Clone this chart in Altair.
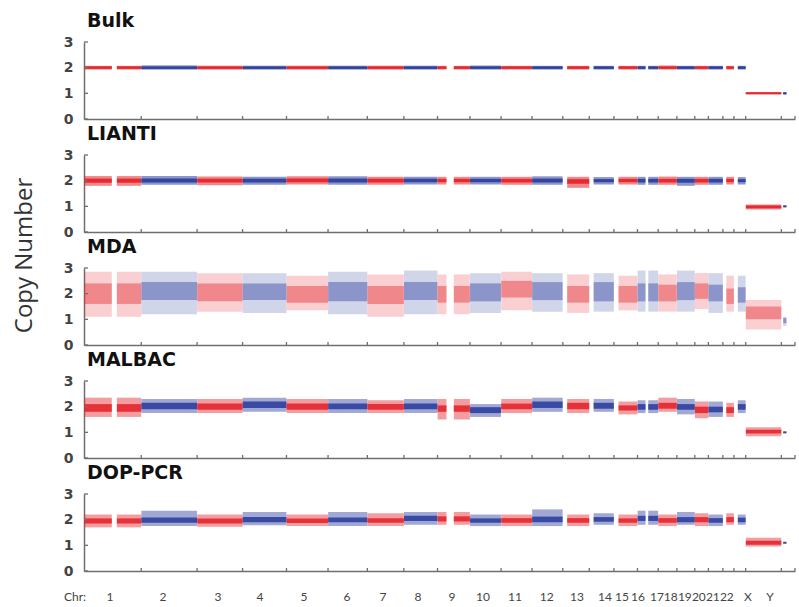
import altair as alt
import pandas as pd

# ---------------- data ----------------
CHR_NAMES = ["1", "2", "3", "4", "5", "6", "7", "8", "9", "10", "11", "12",
             "13", "14", "15", "16", "17", "18", "19", "20", "21", "22", "X", "Y"]
CHR_LEN_MB = [249.25, 243.20, 198.02, 191.15, 180.92, 171.12, 159.14, 146.36,
              141.21, 135.53, 135.01, 133.85, 115.17, 107.35, 102.53, 90.35,
              81.20, 78.08, 59.13, 63.03, 48.13, 51.30, 155.27, 59.37]
# covered regions (Mb within each chromosome); gaps = centromeres / p-arms
CHR_SEGMENTS_MB = [
    [[0.5, 121], [143, 249]], [[0.5, 243]], [[0.5, 198]], [[0.5, 191]],
    [[0.5, 181]], [[0.5, 171]], [[0.5, 159]], [[0.5, 146]],
    [[0.5, 39], [71, 141]], [[0.5, 135]], [[0.5, 135]], [[0.5, 133]],
    [[19, 115]], [[19, 107]], [[20, 102]], [[0.5, 35], [47, 90]],
    [[0.5, 81]], [[0.5, 78]], [[0.5, 59]], [[0.5, 63]],
    [[15, 48]], [[17, 51]], [[0.5, 155]], [[8, 22]],
]
# x positions (cumulative Mb) of the chromosome labels under the bottom panel
LABEL_AT_MB = [113, 344, 583, 766, 958, 1145, 1302, 1454, 1602, 1737, 1876, 2015,
               2146, 2268, 2342, 2412, 2495, 2555, 2616, 2677, 2738, 2799, 2891, 2987]
Y_TICKS = [0, 1, 2, 3]

PANELS = ["Bulk", "LIANTI", "MDA", "MALBAC", "DOP-PCR"]

# copy-number spread per chromosome (outer ~ 5-95 %, core ~ 25-75 %)
BULK_OUT_LO = [1.93, 1.93, 1.93, 1.93, 1.93, 1.93, 1.93, 1.93, 1.93, 1.93, 1.93, 1.93,
               1.93, 1.93, 1.93, 1.93, 1.93, 1.93, 1.93, 1.93, 1.93, 1.93, 0.95, 0.95]
BULK_OUT_HI = [2.07, 2.08, 2.07, 2.07, 2.07, 2.07, 2.07, 2.07, 2.07, 2.08, 2.07, 2.07,
               2.07, 2.07, 2.07, 2.07, 2.08, 2.07, 2.07, 2.07, 2.07, 2.07, 1.05, 1.05]
BULK_CORE_LO = [1.96, 1.96, 1.96, 1.96, 1.96, 1.96, 1.96, 1.96, 1.96, 1.96, 1.96, 1.96,
                1.96, 1.96, 1.96, 1.96, 1.96, 1.96, 1.96, 1.96, 1.96, 1.96, 0.97, 0.97]
BULK_CORE_HI = [2.04, 2.04, 2.04, 2.04, 2.04, 2.04, 2.04, 2.04, 2.04, 2.04, 2.04, 2.04,
                2.04, 2.04, 2.04, 2.04, 2.04, 2.04, 2.04, 2.04, 2.04, 2.04, 1.03, 1.03]

LIANTI_OUT_LO = [1.80, 1.84, 1.82, 1.84, 1.85, 1.84, 1.84, 1.85, 1.85, 1.85, 1.84, 1.84,
                 1.72, 1.85, 1.85, 1.84, 1.84, 1.80, 1.84, 1.84, 1.85, 1.85, 0.88, 0.95]
LIANTI_OUT_HI = [2.18, 2.18, 2.16, 2.15, 2.17, 2.17, 2.15, 2.15, 2.15, 2.15, 2.15, 2.17,
                 2.15, 2.14, 2.15, 2.15, 2.16, 2.15, 2.15, 2.15, 2.15, 2.14, 1.07, 1.05]
LIANTI_CORE_LO = [1.92, 1.93, 1.93, 1.93, 1.94, 1.93, 1.93, 1.94, 1.94, 1.94, 1.93, 1.93,
                  1.88, 1.94, 1.94, 1.93, 1.93, 1.92, 1.93, 1.93, 1.94, 1.94, 0.93, 0.97]
LIANTI_CORE_HI = [2.08, 2.08, 2.07, 2.07, 2.08, 2.08, 2.07, 2.07, 2.07, 2.07, 2.07, 2.08,
                  2.06, 2.06, 2.07, 2.07, 2.07, 2.07, 2.07, 2.07, 2.07, 2.06, 1.03, 1.03]

MDA_OUT_LO = [1.10, 1.20, 1.30, 1.25, 1.35, 1.20, 1.10, 1.20, 1.20, 1.25, 1.35, 1.30,
              1.25, 1.30, 1.35, 1.30, 1.30, 1.30, 1.40, 1.25, 1.30, 1.30, 0.60, 0.75]
MDA_OUT_HI = [2.85, 2.85, 2.80, 2.80, 2.70, 2.85, 2.75, 2.90, 2.75, 2.80, 2.85, 2.80,
              2.75, 2.80, 2.70, 2.90, 2.75, 2.90, 2.80, 2.80, 2.70, 2.70, 1.75, 1.10]
MDA_CORE_LO = [1.60, 1.75, 1.70, 1.75, 1.65, 1.70, 1.60, 1.75, 1.65, 1.70, 1.85, 1.75,
               1.65, 1.70, 1.65, 1.70, 1.70, 1.75, 1.80, 1.70, 1.60, 1.65, 1.00, 0.85]
MDA_CORE_HI = [2.40, 2.45, 2.40, 2.40, 2.30, 2.45, 2.30, 2.45, 2.30, 2.40, 2.50, 2.45,
               2.30, 2.45, 2.30, 2.40, 2.35, 2.45, 2.40, 2.35, 2.20, 2.25, 1.50, 1.05]

MALBAC_OUT_LO = [1.60, 1.75, 1.75, 1.80, 1.75, 1.75, 1.75, 1.75, 1.50, 1.60, 1.75, 1.80,
                 1.75, 1.80, 1.70, 1.75, 1.80, 1.70, 1.55, 1.60, 1.60, 1.75, 0.85, 0.95]
MALBAC_OUT_HI = [2.35, 2.30, 2.30, 2.35, 2.30, 2.30, 2.25, 2.30, 2.30, 2.10, 2.30, 2.35,
                 2.30, 2.30, 2.20, 2.25, 2.35, 2.30, 2.20, 2.20, 2.15, 2.25, 1.20, 1.05]
MALBAC_CORE_LO = [1.80, 1.90, 1.88, 1.95, 1.88, 1.90, 1.88, 1.90, 1.80, 1.75, 1.90, 1.95,
                  1.90, 1.92, 1.85, 1.88, 1.92, 1.88, 1.75, 1.78, 1.75, 1.88, 0.95, 0.97]
MALBAC_CORE_HI = [2.10, 2.15, 2.12, 2.20, 2.12, 2.12, 2.10, 2.12, 2.05, 1.98, 2.12, 2.20,
                  2.15, 2.15, 2.05, 2.10, 2.15, 2.10, 2.00, 2.00, 1.98, 2.10, 1.10, 1.03]

DOP_OUT_LO = [1.70, 1.75, 1.72, 1.78, 1.75, 1.75, 1.75, 1.80, 1.80, 1.75, 1.75, 1.75,
              1.75, 1.80, 1.75, 1.80, 1.75, 1.80, 1.75, 1.75, 1.80, 1.80, 0.95, 1.05]
DOP_OUT_HI = [2.20, 2.35, 2.20, 2.30, 2.20, 2.30, 2.25, 2.30, 2.30, 2.20, 2.20, 2.40,
              2.20, 2.25, 2.20, 2.35, 2.20, 2.30, 2.25, 2.20, 2.25, 2.20, 1.30, 1.15]
DOP_CORE_LO = [1.85, 1.88, 1.85, 1.90, 1.87, 1.90, 1.88, 1.95, 1.93, 1.88, 1.88, 1.90,
               1.88, 1.92, 1.88, 1.95, 1.88, 1.90, 1.90, 1.88, 1.90, 1.90, 1.02, 1.07]
DOP_CORE_HI = [2.05, 2.08, 2.05, 2.10, 2.05, 2.08, 2.06, 2.15, 2.13, 2.05, 2.06, 2.12,
               2.06, 2.10, 2.05, 2.15, 2.06, 2.10, 2.10, 2.06, 2.10, 2.08, 1.18, 1.13]

PANEL_VALUES = {
    "Bulk": (BULK_OUT_LO, BULK_OUT_HI, BULK_CORE_LO, BULK_CORE_HI),
    "LIANTI": (LIANTI_OUT_LO, LIANTI_OUT_HI, LIANTI_CORE_LO, LIANTI_CORE_HI),
    "MDA": (MDA_OUT_LO, MDA_OUT_HI, MDA_CORE_LO, MDA_CORE_HI),
    "MALBAC": (MALBAC_OUT_LO, MALBAC_OUT_HI, MALBAC_CORE_LO, MALBAC_CORE_HI),
    "DOP-PCR": (DOP_OUT_LO, DOP_OUT_HI, DOP_CORE_LO, DOP_CORE_HI),
}

# ---------------- style ----------------
RED = "#e4262c"
BLUE = "#2e3f9e"
AX = "#6f6f6f"
W = 711
H = 77
OPAC = {"Bulk": (0.75, 1.0), "LIANTI": (0.55, 0.95), "MDA": (0.22, 0.42),
        "MALBAC": (0.45, 0.9), "DOP-PCR": (0.45, 0.9)}

CUM_START = []
acc = 0.0
for L in CHR_LEN_MB:
    CUM_START.append(acc)
    acc += L
GENOME = acc
BOUNDARIES = [CUM_START[i] + CHR_LEN_MB[i] for i in range(len(CHR_LEN_MB))]


def panel_df(out_lo, out_hi, core_lo, core_hi):
    rows = []
    for i, name in enumerate(CHR_NAMES):
        for s0, s1 in CHR_SEGMENTS_MB[i]:
            rows.append(dict(chr=name, x0=CUM_START[i] + s0, x1=CUM_START[i] + s1,
                             olo=out_lo[i], ohi=out_hi[i], clo=core_lo[i], chi=core_hi[i],
                             parity="odd" if i % 2 == 0 else "even"))
    return pd.DataFrame(rows)


def make_panel(title, ytitle=False, bottom=False):
    df = panel_df(*PANEL_VALUES[title])
    out_op, core_op = OPAC[title]
    xs = alt.Scale(domain=[0, GENOME], nice=False, zero=False)
    ys = alt.Scale(domain=[0, 3], nice=False)
    xaxis = alt.Axis(ticks=False, labels=False, title=None, grid=False,
                     domainColor=AX, domainWidth=1.5)
    yargs = dict(values=Y_TICKS, ticks=False, labelPadding=11, labelFont="DejaVu Sans",
                 labelFontWeight="bold", labelFontSize=14, labelColor="#444",
                 labelOverlap=False, labelBound=False, labelFlush=False,
                 grid=False, domainColor=AX, domainWidth=1.5)
    if ytitle:
        yaxis = alt.Axis(title="Copy Number", titleFont="Open Sans", titleFontSize=24,
                         titleFontWeight="normal", titleColor="#333", titleAngle=270,
                         titleAlign="center", titleBaseline="middle",
                         titleX=-60, titleY=-13, **yargs)
    else:
        yaxis = alt.Axis(title=None, **yargs)
    color = alt.Color("parity:N", scale=alt.Scale(domain=["odd", "even"], range=[RED, BLUE]),
                      legend=None)
    base = alt.Chart(df)
    outer = base.mark_rect(opacity=out_op).encode(
        x=alt.X("x0:Q", scale=xs, axis=xaxis), x2="x1:Q",
        y=alt.Y("olo:Q", scale=ys, axis=yaxis), y2="ohi:Q", color=color)
    core = base.mark_rect(opacity=core_op).encode(
        x=alt.X("x0:Q", scale=xs, axis=xaxis), x2="x1:Q",
        y=alt.Y("clo:Q", scale=ys, axis=yaxis), y2="chi:Q", color=color)
    yt = alt.Chart(pd.DataFrame({"v": Y_TICKS})).mark_rule(color=AX, strokeWidth=1.3).encode(
        y=alt.Y("v:Q", scale=ys, axis=yaxis), x=alt.value(0), x2=alt.value(4))
    xt = alt.Chart(pd.DataFrame({"b": BOUNDARIES})).mark_rule(color=AX, strokeWidth=1.3).encode(
        x=alt.X("b:Q", scale=xs, axis=xaxis), y=alt.value(H), y2=alt.value(H - 3))
    ttl = alt.Chart(pd.DataFrame({"t": [title]})).mark_text(
        font="DejaVu Sans", fontSize=19, fontWeight="bold", color="#111",
        align="left", baseline="alphabetic"
    ).encode(text="t:N", x=alt.value(3), y=alt.value(-15))
    layers = [outer, core, yt, xt, ttl]
    if bottom:
        lab = alt.Chart(pd.DataFrame({"pos": LABEL_AT_MB, "name": CHR_NAMES})).mark_text(
            font="Lato", fontSize=12, color="#444", baseline="middle", align="center"
        ).encode(x=alt.X("pos:Q", scale=xs, axis=xaxis), text="name:N", y=alt.value(H + 26))
        chr_t = alt.Chart(pd.DataFrame({"t": ["Chr:"]})).mark_text(
            font="Lato", fontSize=12, color="#444", baseline="middle", align="center"
        ).encode(text="t:N", x=alt.value(-9), y=alt.value(H + 26))
        layers += [lab, chr_t]
    return alt.layer(*layers).properties(width=W, height=H)


panels = [make_panel(p, ytitle=(p == "MDA"), bottom=(p == "DOP-PCR")) for p in PANELS]
chart = alt.vconcat(*panels, spacing=36, bounds="flush").properties(
    padding={"left": 11, "top": 12, "right": 2, "bottom": 0}
).configure_view(stroke=None)

chart.save("out.html", embed_options={"renderer": "svg", "actions": False})
